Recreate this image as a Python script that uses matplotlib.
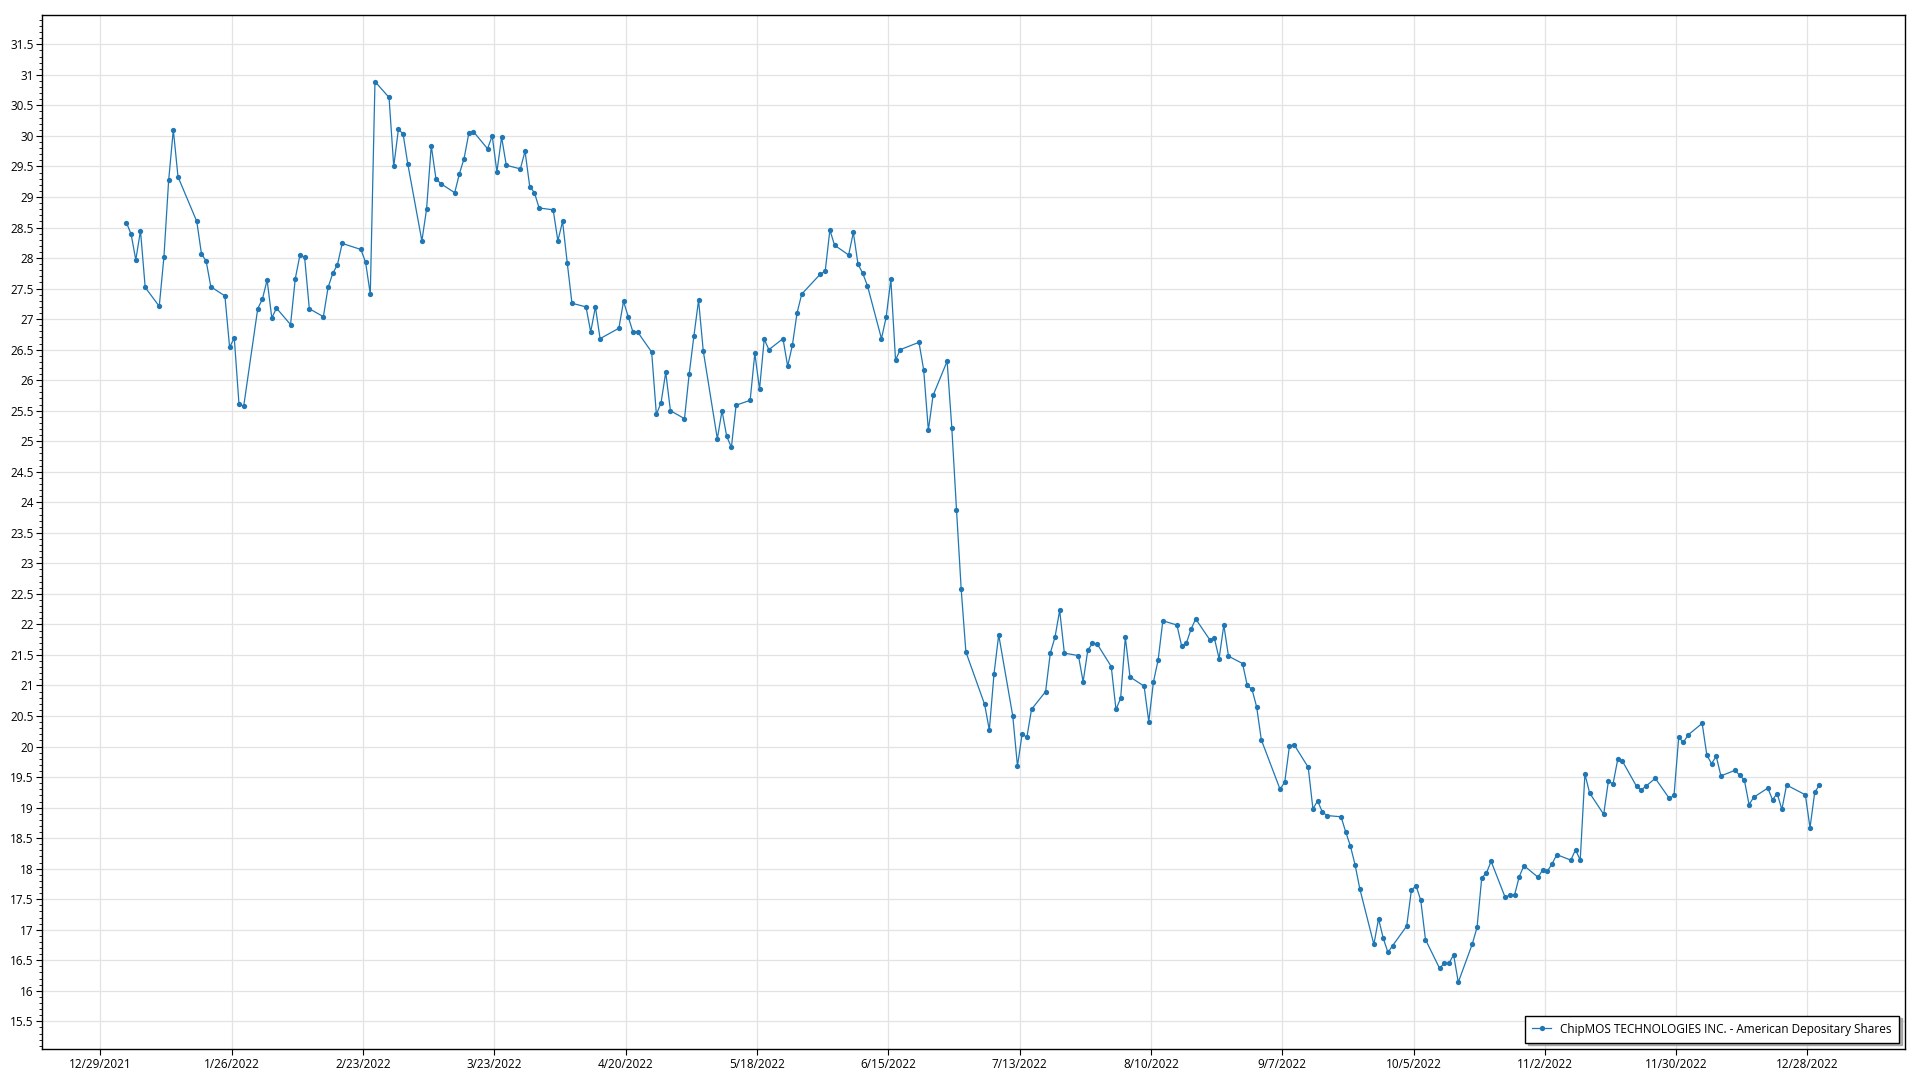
import matplotlib
matplotlib.use("Agg")
import matplotlib.pyplot as plt
import matplotlib.dates as mdates
import matplotlib.ticker as mticker
import pandas as pd
import numpy as np

series_name = "ChipMOS TECHNOLOGIES INC. - American Depositary Shares"

dates = [
    "2022-01-03", "2022-01-04", "2022-01-05", "2022-01-06", "2022-01-07",
    "2022-01-10", "2022-01-11", "2022-01-12", "2022-01-13", "2022-01-14",
    "2022-01-18", "2022-01-19", "2022-01-20", "2022-01-21",
    "2022-01-24", "2022-01-25", "2022-01-26", "2022-01-27", "2022-01-28",
    "2022-01-31", "2022-02-01", "2022-02-02", "2022-02-03", "2022-02-04",
    "2022-02-07", "2022-02-08", "2022-02-09", "2022-02-10", "2022-02-11",
    "2022-02-14", "2022-02-15", "2022-02-16", "2022-02-17", "2022-02-18",
    "2022-02-22", "2022-02-23", "2022-02-24", "2022-02-25",
    "2022-02-28", "2022-03-01", "2022-03-02", "2022-03-03", "2022-03-04",
    "2022-03-07", "2022-03-08", "2022-03-09", "2022-03-10", "2022-03-11",
    "2022-03-14", "2022-03-15", "2022-03-16", "2022-03-17", "2022-03-18",
    "2022-03-21", "2022-03-22", "2022-03-23", "2022-03-24", "2022-03-25",
    "2022-03-28", "2022-03-29", "2022-03-30", "2022-03-31", "2022-04-01",
    "2022-04-04", "2022-04-05", "2022-04-06", "2022-04-07", "2022-04-08",
    "2022-04-11", "2022-04-12", "2022-04-13", "2022-04-14",
    "2022-04-18", "2022-04-19", "2022-04-20", "2022-04-21", "2022-04-22",
    "2022-04-25", "2022-04-26", "2022-04-27", "2022-04-28", "2022-04-29",
    "2022-05-02", "2022-05-03", "2022-05-04", "2022-05-05", "2022-05-06",
    "2022-05-09", "2022-05-10", "2022-05-11", "2022-05-12", "2022-05-13",
    "2022-05-16", "2022-05-17", "2022-05-18", "2022-05-19", "2022-05-20",
    "2022-05-23", "2022-05-24", "2022-05-25", "2022-05-26", "2022-05-27",
    "2022-05-31", "2022-06-01", "2022-06-02", "2022-06-03",
    "2022-06-06", "2022-06-07", "2022-06-08", "2022-06-09", "2022-06-10",
    "2022-06-13", "2022-06-14", "2022-06-15", "2022-06-16", "2022-06-17",
    "2022-06-21", "2022-06-22", "2022-06-23", "2022-06-24",
    "2022-06-27", "2022-06-28", "2022-06-29", "2022-06-30", "2022-07-01",
    "2022-07-05", "2022-07-06", "2022-07-07", "2022-07-08",
    "2022-07-11", "2022-07-12", "2022-07-13", "2022-07-14", "2022-07-15",
    "2022-07-18", "2022-07-19", "2022-07-20", "2022-07-21", "2022-07-22",
    "2022-07-25", "2022-07-26", "2022-07-27", "2022-07-28", "2022-07-29",
    "2022-08-01", "2022-08-02", "2022-08-03", "2022-08-04", "2022-08-05",
    "2022-08-08", "2022-08-09", "2022-08-10", "2022-08-11", "2022-08-12",
    "2022-08-15", "2022-08-16", "2022-08-17", "2022-08-18", "2022-08-19",
    "2022-08-22", "2022-08-23", "2022-08-24", "2022-08-25", "2022-08-26",
    "2022-08-29", "2022-08-30", "2022-08-31", "2022-09-01", "2022-09-02",
    "2022-09-06", "2022-09-07", "2022-09-08", "2022-09-09",
    "2022-09-12", "2022-09-13", "2022-09-14", "2022-09-15", "2022-09-16",
    "2022-09-19", "2022-09-20", "2022-09-21", "2022-09-22", "2022-09-23",
    "2022-09-26", "2022-09-27", "2022-09-28", "2022-09-29", "2022-09-30",
    "2022-10-03", "2022-10-04", "2022-10-05", "2022-10-06", "2022-10-07",
    "2022-10-10", "2022-10-11", "2022-10-12", "2022-10-13", "2022-10-14",
    "2022-10-17", "2022-10-18", "2022-10-19", "2022-10-20", "2022-10-21",
    "2022-10-24", "2022-10-25", "2022-10-26", "2022-10-27", "2022-10-28",
    "2022-10-31", "2022-11-01", "2022-11-02", "2022-11-03", "2022-11-04",
    "2022-11-07", "2022-11-08", "2022-11-09", "2022-11-10", "2022-11-11",
    "2022-11-14", "2022-11-15", "2022-11-16", "2022-11-17", "2022-11-18",
    "2022-11-21", "2022-11-22", "2022-11-23", "2022-11-25",
    "2022-11-28", "2022-11-29", "2022-11-30", "2022-12-01", "2022-12-02",
    "2022-12-05", "2022-12-06", "2022-12-07", "2022-12-08", "2022-12-09",
    "2022-12-12", "2022-12-13", "2022-12-14", "2022-12-15", "2022-12-16",
    "2022-12-19", "2022-12-20", "2022-12-21", "2022-12-22", "2022-12-23",
    "2022-12-27", "2022-12-28", "2022-12-29", "2022-12-30",
]

prices = [
    28.58, 28.39, 27.97, 28.45, 27.52,
    27.21, 28.02, 29.27, 30.10, 29.33,
    28.60, 28.07, 27.95, 27.53,
    27.38, 26.54, 26.69, 25.61, 25.57,
    27.17, 27.33, 27.64, 27.02, 27.18,
    26.91, 27.66, 28.05, 28.01, 27.17,
    27.04, 27.52, 27.75, 27.89, 28.24,
    28.14, 27.93, 27.41, 30.89,
    30.63, 29.50, 30.11, 30.03, 29.54,
    28.28, 28.80, 29.84, 29.30, 29.22,
    29.07, 29.38, 29.63, 30.04, 30.07,
    29.79, 30.00, 29.41, 29.98, 29.52,
    29.46, 29.75, 29.17, 29.07, 28.82,
    28.79, 28.28, 28.60, 27.92, 27.26,
    27.20, 26.79, 27.20, 26.68,
    26.85, 27.29, 27.04, 26.79, 26.79,
    26.46, 25.44, 25.63, 26.13, 25.50,
    25.37, 26.10, 26.72, 27.31, 26.48,
    25.04, 25.50, 25.08, 24.90, 25.59,
    25.67, 26.44, 25.85, 26.67, 26.50,
    26.68, 26.23, 26.57, 27.10, 27.41,
    27.74, 27.78, 28.46, 28.21,
    28.05, 28.42, 27.90, 27.75, 27.55,
    26.68, 27.03, 27.65, 26.33, 26.50,
    26.62, 26.17, 25.18, 25.75,
    26.31, 25.22, 23.88, 22.58, 21.55,
    20.69, 20.27, 21.19, 21.83,
    20.50, 19.68, 20.21, 20.15, 20.61,
    20.90, 21.53, 21.79, 22.23, 21.53,
    21.49, 21.06, 21.58, 21.69, 21.68,
    21.31, 20.61, 20.79, 21.79, 21.14,
    20.99, 20.41, 21.06, 21.42, 22.06,
    21.99, 21.65, 21.69, 21.92, 22.09,
    21.75, 21.77, 21.44, 21.99, 21.48,
    21.36, 21.00, 20.94, 20.65, 20.11,
    19.30, 19.42, 20.01, 20.03,
    19.66, 18.98, 19.11, 18.93, 18.87,
    18.85, 18.60, 18.37, 18.06, 17.67,
    16.76, 17.18, 16.86, 16.63, 16.74,
    17.06, 17.65, 17.72, 17.48, 16.84,
    16.37, 16.45, 16.45, 16.59, 16.14,
    16.77, 17.04, 17.85, 17.93, 18.12,
    17.53, 17.57, 17.57, 17.87, 18.05,
    17.86, 17.98, 17.96, 18.08, 18.23,
    18.14, 18.31, 18.14, 19.55, 19.24,
    18.89, 19.43, 19.39, 19.79, 19.76,
    19.35, 19.29, 19.35, 19.48,
    19.15, 19.20, 20.15, 20.07, 20.19,
    20.38, 19.86, 19.72, 19.84, 19.52,
    19.61, 19.53, 19.45, 19.05, 19.17,
    19.32, 19.13, 19.23, 18.97, 19.37,
    19.21, 18.67, 19.25, 19.37,
]

tick_dates = ["2021-12-29", "2022-01-26", "2022-02-23", "2022-03-23", "2022-04-20",
              "2022-05-18", "2022-06-15", "2022-07-13", "2022-08-10", "2022-09-07",
              "2022-10-05", "2022-11-02", "2022-11-30", "2022-12-28"]

plt.rcParams['font.family'] = ['Open Sans', 'DejaVu Sans']

fig = plt.figure(figsize=(19.2, 10.8), dpi=100)
ax = fig.add_axes([0.0219, 0.0283, 0.9703, 0.9578])

x = pd.to_datetime(dates) + pd.Timedelta(hours=13)
color = "#1f77b4"
ax.plot(x, prices, color=color, linewidth=0.9, marker="o", markersize=3.8,
        markeredgewidth=0, label=series_name, zorder=3)

ticks = pd.to_datetime(tick_dates)
ax.set_xticks(ticks)
ax.set_xticklabels([f"{d.month}/{d.day}/{d.year}" for d in ticks])
t0 = mdates.date2num(pd.Timestamp("2021-12-29"))
ax.set_xlim(t0 - 12.45, t0 + 384.8)

ax.set_ylim(15.04, 31.98)
ax.yaxis.set_major_locator(mticker.MultipleLocator(0.5))
ax.yaxis.set_minor_locator(mticker.MultipleLocator(0.1))
ax.yaxis.set_major_formatter(mticker.FuncFormatter(lambda v, p: f"{v:g}"))

ax.grid(True, which="major", color="#e3e3e3", linewidth=0.9, zorder=0)
ax.set_axisbelow(True)
for s in ax.spines.values():
    s.set_color("black")
    s.set_linewidth(1.0)

ax.tick_params(axis="both", which="major", labelsize=8.5, length=4, width=0.8, colors="black", pad=2)
ax.tick_params(axis="y", which="minor", length=2, width=0.6, colors="black")
ax.tick_params(axis="x", which="minor", length=0)

leg = ax.legend(loc="lower right", fontsize=8.5, frameon=True, fancybox=False,
                shadow={"color": "#9a9a9a", "alpha": 0.8}, edgecolor="black",
                borderpad=0.6, handlelength=1.6, borderaxespad=0,
                bbox_to_anchor=(0.9968, 0.0065))
leg.get_frame().set_linewidth(1.0)

fig.savefig("out.png", dpi=100)
